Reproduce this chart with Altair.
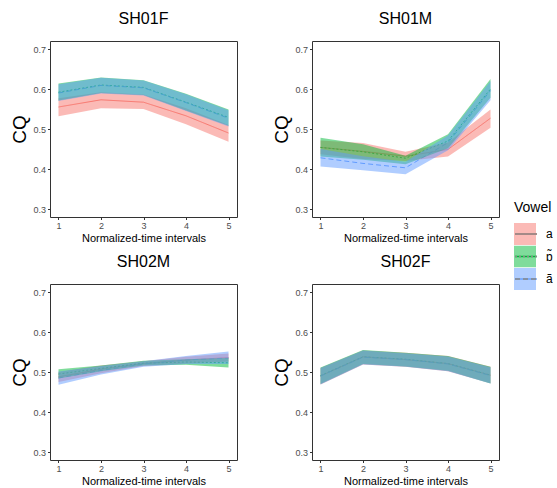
import altair as alt
import pandas as pd

speakers = ["SH01F", "SH01M", "SH02M", "SH02F"]
vowels = ["a", "ɒ̃", "ã"]
times = [1, 2, 3, 4, 5]
colors = ["#F8766D", "#00BA38", "#619CFF"]
dashes = [[1, 0], [2, 2], [5, 3]]

# SH01F
sh01f_a_mean = [0.555, 0.573, 0.567, 0.533, 0.490]
sh01f_a_lo = [0.532, 0.552, 0.550, 0.512, 0.468]
sh01f_a_hi = [0.577, 0.592, 0.586, 0.552, 0.510]
sh01f_o_mean = [0.592, 0.610, 0.604, 0.567, 0.529]
sh01f_o_lo = [0.571, 0.590, 0.585, 0.546, 0.508]
sh01f_o_hi = [0.614, 0.629, 0.622, 0.588, 0.549]
sh01f_an_mean = [0.590, 0.609, 0.603, 0.566, 0.527]
sh01f_an_lo = [0.570, 0.589, 0.584, 0.545, 0.506]
sh01f_an_hi = [0.612, 0.628, 0.621, 0.587, 0.547]

# SH01M
sh01m_a_mean = [0.454, 0.444, 0.432, 0.449, 0.527]
sh01m_a_lo = [0.437, 0.425, 0.420, 0.431, 0.503]
sh01m_a_hi = [0.471, 0.465, 0.443, 0.466, 0.549]
sh01m_o_mean = [0.454, 0.443, 0.427, 0.470, 0.600]
sh01m_o_lo = [0.431, 0.423, 0.412, 0.452, 0.578]
sh01m_o_hi = [0.478, 0.462, 0.433, 0.487, 0.625]
sh01m_an_mean = [0.428, 0.414, 0.403, 0.466, 0.596]
sh01m_an_lo = [0.406, 0.397, 0.387, 0.447, 0.572]
sh01m_an_hi = [0.450, 0.432, 0.418, 0.484, 0.620]

# SH02M
sh02m_a_mean = [0.488, 0.507, 0.521, 0.530, 0.536]
sh02m_a_lo = [0.475, 0.497, 0.515, 0.521, 0.526]
sh02m_a_hi = [0.500, 0.516, 0.527, 0.538, 0.546]
sh02m_o_mean = [0.495, 0.509, 0.522, 0.525, 0.523]
sh02m_o_lo = [0.484, 0.502, 0.516, 0.518, 0.511]
sh02m_o_hi = [0.507, 0.516, 0.528, 0.532, 0.535]
sh02m_an_mean = [0.485, 0.504, 0.520, 0.530, 0.535]
sh02m_an_lo = [0.468, 0.494, 0.513, 0.520, 0.520]
sh02m_an_hi = [0.501, 0.515, 0.527, 0.540, 0.551]

# SH02F
sh02f_a_mean = [0.490, 0.538, 0.531, 0.521, 0.492]
sh02f_a_lo = [0.469, 0.519, 0.513, 0.502, 0.472]
sh02f_a_hi = [0.510, 0.554, 0.548, 0.540, 0.513]
sh02f_o_mean = [0.491, 0.538, 0.532, 0.521, 0.492]
sh02f_o_lo = [0.470, 0.520, 0.514, 0.503, 0.471]
sh02f_o_hi = [0.511, 0.555, 0.548, 0.540, 0.513]
sh02f_an_mean = [0.490, 0.537, 0.531, 0.520, 0.491]
sh02f_an_lo = [0.469, 0.519, 0.513, 0.502, 0.471]
sh02f_an_hi = [0.510, 0.554, 0.547, 0.539, 0.512]

series = {
    "SH01F": [(sh01f_a_mean, sh01f_a_lo, sh01f_a_hi), (sh01f_o_mean, sh01f_o_lo, sh01f_o_hi), (sh01f_an_mean, sh01f_an_lo, sh01f_an_hi)],
    "SH01M": [(sh01m_a_mean, sh01m_a_lo, sh01m_a_hi), (sh01m_o_mean, sh01m_o_lo, sh01m_o_hi), (sh01m_an_mean, sh01m_an_lo, sh01m_an_hi)],
    "SH02M": [(sh02m_a_mean, sh02m_a_lo, sh02m_a_hi), (sh02m_o_mean, sh02m_o_lo, sh02m_o_hi), (sh02m_an_mean, sh02m_an_lo, sh02m_an_hi)],
    "SH02F": [(sh02f_a_mean, sh02f_a_lo, sh02f_a_hi), (sh02f_o_mean, sh02f_o_lo, sh02f_o_hi), (sh02f_an_mean, sh02f_an_lo, sh02f_an_hi)],
}

rows = []
for sp in speakers:
    for v, (m, lo, hi) in zip(vowels, series[sp]):
        for t, mv, lv, hv in zip(times, m, lo, hi):
            rows.append({"speaker": sp, "Vowel": v, "VowelL": v, "t": t, "mean": mv, "lo": lv, "hi": hv})
df = pd.DataFrame(rows)

FONT = "Liberation Sans"

xscale = alt.Scale(domain=[0.8, 5.2], nice=False, zero=False)
yscale = alt.Scale(domain=[0.28, 0.72], nice=False, zero=False)
xaxis = alt.Axis(values=times, format="d", title="Normalized-time intervals")
yaxis = alt.Axis(values=[0.3, 0.4, 0.5, 0.6, 0.7], format=".1f", title="CQ")

LX, LY = 464, 160

fill_legend = alt.Legend(
    orient="none", legendX=LX, legendY=LY, title="Vowel",
    titleFontSize=14, titleFont=FONT, titleFontWeight="normal", titleColor="black",
    titlePadding=8, labelFontSize=12, labelFont=FONT, labelColor="black",
    symbolType="square", symbolSize=484, symbolStrokeWidth=0, symbolOpacity=0.5,
    rowPadding=0.5, labelOffset=10, clipHeight=22, zindex=0,
)
stroke_legend = alt.Legend(
    orient="none", legendX=LX, legendY=LY + 22, title=None,
    labelFontSize=12, labelFont=FONT, labelExpr="''",
    symbolType="stroke", symbolSize=484, symbolStrokeWidth=1.3,
    rowPadding=0.5, labelOffset=10, clipHeight=22, zindex=2,
)


def panel(sp):
    base = alt.Chart(df).transform_filter(alt.datum.speaker == sp)
    line = base.mark_line(strokeWidth=1).encode(
        x=alt.X("t:Q", scale=xscale, axis=xaxis),
        y=alt.Y("mean:Q", scale=yscale, axis=yaxis),
        stroke=alt.Stroke("VowelL:N", sort=vowels, scale=alt.Scale(range=colors), legend=stroke_legend),
        strokeDash=alt.StrokeDash("VowelL:N", sort=vowels, scale=alt.Scale(range=dashes), legend=stroke_legend),
    )
    area = base.mark_area(opacity=0.5).encode(
        x=alt.X("t:Q", scale=xscale),
        y=alt.Y("lo:Q", scale=yscale),
        y2="hi:Q",
        fill=alt.Fill("Vowel:N", sort=vowels, scale=alt.Scale(domain=vowels, range=colors), legend=fill_legend),
    )
    return alt.layer(line, area).properties(
        width=187, height=176,
        title=alt.TitleParams(sp, fontSize=16, font=FONT, fontWeight="normal", color="black", offset=14),
    )


chart = alt.vconcat(
    alt.hconcat(panel("SH01F"), panel("SH01M"), spacing=34),
    alt.hconcat(panel("SH02M"), panel("SH02F"), spacing=34),
    spacing=9,
).properties(
    padding={"left": 10, "top": 10, "right": 0, "bottom": 0},
    background="white",
).configure_view(
    stroke="#333333", strokeWidth=1
).configure_axis(
    grid=False, domain=False, ticks=True, tickColor="#333333", tickSize=2.5,
    labelFont=FONT, labelFontSize=9, labelColor="#4d4d4d", labelPadding=2,
    titleFont=FONT, titleFontWeight="normal", titleColor="black", minExtent=0,
).configure_axisX(
    titleFontSize=11, titlePadding=2,
).configure_axisY(
    titleFontSize=19, titlePadding=3,
)

chart.save("out.html", embed_options={"renderer": "svg", "actions": False})
